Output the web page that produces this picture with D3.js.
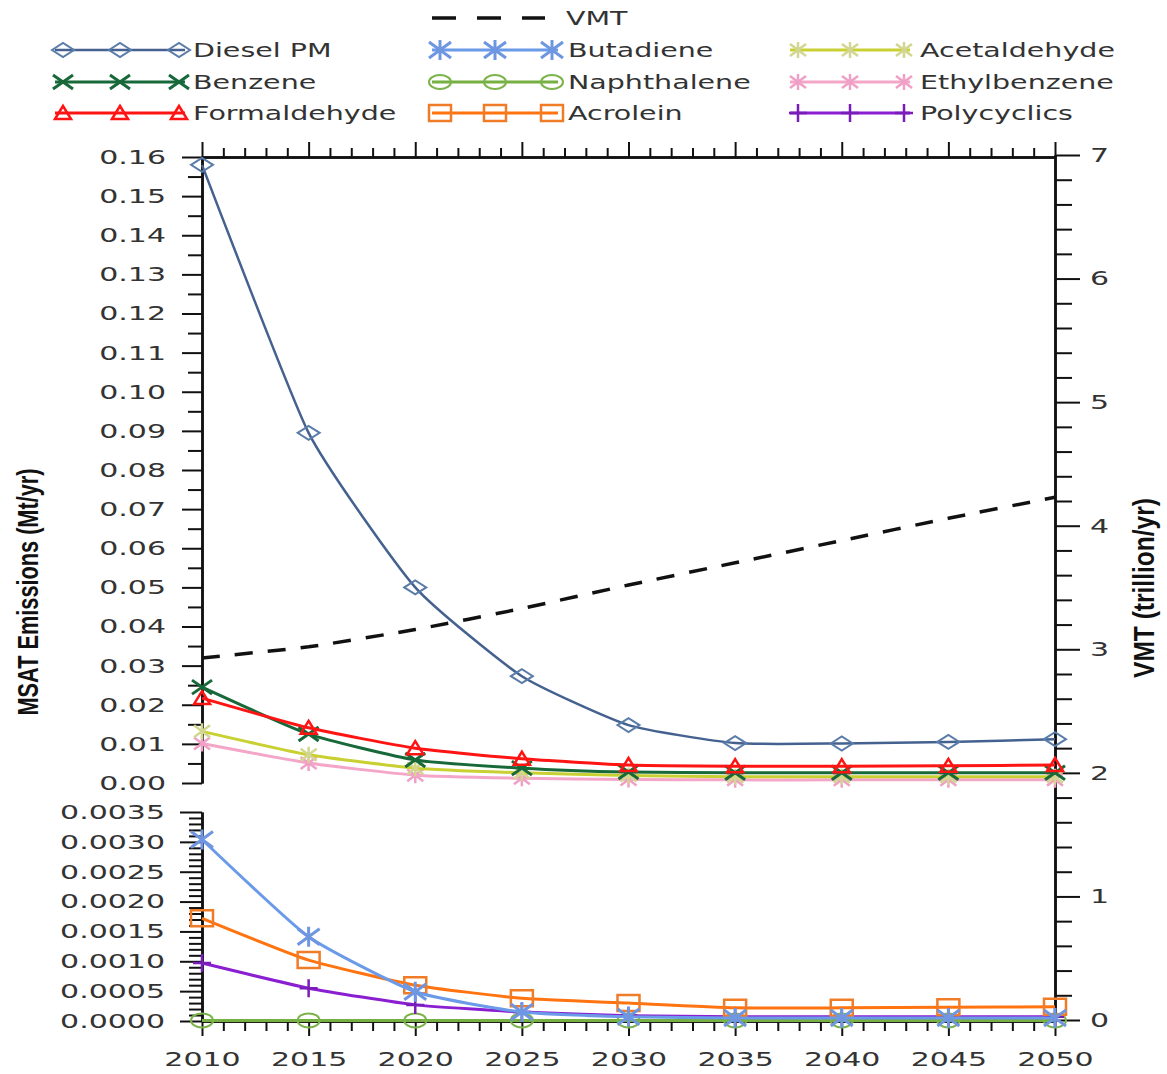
<!DOCTYPE html>
<html>
<head>
<meta charset="utf-8">
<script src="https://cdn.jsdelivr.net/npm/d3@7"></script>
<style>
  html, body { margin: 0; padding: 0; background: #fff; }
  svg { display: block; }
</style>
</head>
<body>
<svg id="chart" width="1167" height="1074"></svg>
<script>
// ---------------- DATA ----------------
const years = [2010, 2015, 2020, 2025, 2030, 2035, 2040, 2045, 2050];
const vmt = [2.93, 3.02, 3.16, 3.33, 3.52, 3.70, 3.88, 4.06, 4.23];
const dieselPM = [0.158, 0.0895, 0.0500, 0.0273, 0.0148, 0.0102, 0.0101, 0.0105, 0.0112];
const benzene = [0.0245, 0.0125, 0.0059, 0.0038, 0.0028, 0.0026, 0.0026, 0.0026, 0.0026];
const formaldehyde = [0.0217, 0.0141, 0.0089, 0.0062, 0.0046, 0.0043, 0.0043, 0.0044, 0.0046];
const acetaldehyde = [0.0132, 0.0072, 0.0038, 0.0026, 0.0019, 0.0016, 0.0016, 0.0016, 0.0016];
const ethylbenzene = [0.0101, 0.0051, 0.0020, 0.0012, 0.0009, 0.0008, 0.0008, 0.0008, 0.0008];
const butadiene = [0.00304, 0.00141, 0.00049, 0.00015, 0.00007, 0.00005, 0.00005, 0.00005, 0.00005];
const acrolein = [0.00172, 0.00102, 0.00060, 0.00038, 0.00030, 0.00022, 0.00022, 0.00023, 0.00024];
const polycyclics = [0.00097, 0.00055, 0.00027, 0.00015, 0.00009, 0.00007, 0.00007, 0.00007, 0.00007];
const naphthalene = [0.00001, 0.00001, 0.00001, 0.00001, 0.00001, 0.00001, 0.00001, 0.00001, 0.00001];

const topTickLabels = [0, 0.01, 0.02, 0.03, 0.04, 0.05, 0.06, 0.07, 0.08, 0.09, 0.10, 0.11, 0.12, 0.13, 0.14, 0.15, 0.16];
const bottomTickLabels = [0, 0.0005, 0.0010, 0.0015, 0.0020, 0.0025, 0.0030, 0.0035];
const rightTickLabels = [0, 1, 2, 3, 4, 5, 6, 7];
const yearTickLabels = years;

const leftTitle = "MSAT Emissions (Mt/yr)";
const rightTitle = "VMT (trillion/yr)";

// ---------------- SETUP ----------------
const svg = d3.select("#chart");
const SX = 1.5; // horizontal text stretch of the reference
const FONT = "'DejaVu Sans', Verdana, sans-serif";
const TXT = "#333";

const x = d3.scaleLinear().domain([2010, 2050]).range([202, 1055]);
const yTop = d3.scaleLinear().domain([0, 0.16]).range([783, 157]);
const yBot = d3.scaleLinear().domain([0, 0.0035]).range([1021, 812]);
const yR = d3.scaleLinear().domain([0, 7]).range([1020, 155]);

svg.append("rect").attr("width", 1167).attr("height", 1074).attr("fill", "#fff");

function styleAxis(g) {
  g.selectAll(".domain").attr("stroke", "#111").attr("stroke-width", 2.5);
  g.selectAll(".tick line").attr("stroke", "#111").attr("stroke-width", 2);
  g.attr("font-family", FONT).attr("font-size", 20);
  g.selectAll(".tick text").attr("fill", TXT);
}
function stretchLabels(g, xoff) {
  g.selectAll(".tick text").each(function () {
    const t = d3.select(this);
    t.attr("x", xoff / SX).attr("transform", `scale(${SX},1)`);
  });
}

// ---- top panel left axis ----
const minorTop = d3.range(0, 16).map(i => 0.005 + i * 0.01);
svg.append("g").attr("transform", "translate(202,0)")
  .call(d3.axisLeft(yTop).tickValues(minorTop).tickSize(14).tickSizeOuter(0).tickFormat(""))
  .call(styleAxis);
const gTL = svg.append("g").attr("transform", "translate(202,0)")
  .call(d3.axisLeft(yTop).tickValues(topTickLabels).tickSize(20).tickSizeOuter(0).tickFormat(d3.format(".2f")))
  .call(styleAxis);
stretchLabels(gTL, -36);

// ---- top border with ticks ----
const allYears = d3.range(2010, 2051);
svg.append("g").attr("transform", "translate(0,157)")
  .call(d3.axisTop(x).tickValues(allYears.filter(v => v % 5 !== 0)).tickSize(9).tickSizeOuter(0).tickFormat(""))
  .call(styleAxis);
svg.append("g").attr("transform", "translate(0,157)")
  .call(d3.axisTop(x).tickValues(yearTickLabels).tickSize(15).tickSizeOuter(0).tickFormat(""))
  .call(styleAxis);

// ---- bottom panel left axis ----
const minorBot = d3.range(0, 36).filter(i => i % 5 !== 0).map(i => i * 0.0001);
svg.append("g").attr("transform", "translate(202,0)")
  .call(d3.axisLeft(yBot).tickValues(minorBot).tickSize(13).tickSizeOuter(0).tickFormat(""))
  .call(styleAxis);
const gBL = svg.append("g").attr("transform", "translate(202,0)")
  .call(d3.axisLeft(yBot).tickValues(bottomTickLabels).tickSize(22).tickSizeOuter(0).tickFormat(d3.format(".4f")))
  .call(styleAxis);
stretchLabels(gBL, -37);

// ---- bottom x axis ----
svg.append("g").attr("transform", "translate(0,1021)")
  .call(d3.axisBottom(x).tickValues(allYears.filter(v => v % 5 !== 0)).tickSize(10).tickSizeOuter(0).tickFormat(""))
  .call(styleAxis);
const gX = svg.append("g").attr("transform", "translate(0,1021)")
  .call(d3.axisBottom(x).tickValues(yearTickLabels).tickSize(15).tickSizeOuter(0).tickFormat(d3.format("d")))
  .call(styleAxis);
gX.selectAll(".tick text").attr("y", 45).attr("dy", 0).attr("transform", `scale(${SX},1)`);

// ---- right axis ----
const minorR = d3.range(0, 36).filter(i => i % 5 !== 0).map(i => i * 0.2);
svg.append("g").attr("transform", "translate(1055,0)")
  .call(d3.axisRight(yR).tickValues(minorR).tickSize(17).tickSizeOuter(0).tickFormat(""))
  .call(styleAxis);
const gR = svg.append("g").attr("transform", "translate(1055,0)")
  .call(d3.axisRight(yR).tickValues(rightTickLabels).tickSize(25).tickSizeOuter(0).tickFormat(d3.format("d")))
  .call(styleAxis);
stretchLabels(gR, 35);

// ---- axis titles ----
svg.append("text")
  .attr("transform", "translate(38,592) rotate(-90) scale(1,1.5)")
  .attr("text-anchor", "middle")
  .attr("font-family", "'Liberation Sans Narrow','Liberation Sans',Arial,sans-serif")
  .attr("font-weight", "bold").attr("font-size", 20).attr("fill", "#111")
  .attr("textLength", 247).attr("lengthAdjust", "spacingAndGlyphs")
  .text(leftTitle);
svg.append("text")
  .attr("transform", "translate(1154,588) rotate(-90) scale(1,1.5)")
  .attr("text-anchor", "middle")
  .attr("font-family", "'Liberation Sans Narrow','Liberation Sans',Arial,sans-serif")
  .attr("font-weight", "bold").attr("font-size", 20).attr("fill", "#111")
  .attr("textLength", 180).attr("lengthAdjust", "spacingAndGlyphs")
  .text(rightTitle);

// ---------------- MARKERS ----------------
const markerPaths = {
  diamond: "M-11,0L0,-7L11,0L0,7Z",
  circle: "M-11,0A11,7 0 1,0 11,0A11,7 0 1,0 -11,0Z",
  square: "M-11,-8H11V8H-11Z",
  triangle: "M-8,6L0,-7L8,6Z",
  xmark: "M-10,-7L10,7M-10,7L10,-7",
  star: "M-11,-8L11,8M-11,8L11,-8M0,-10V10",
  smallstar: "M-8,-6L8,6M-8,6L8,-6M0,-8V8",
  plus: "M0,-9V9M-9,0H9"
};

const seriesTop = [
  { name: "Ethylbenzene", values: ethylbenzene, color: "#f3a6c8", width: 3, marker: "smallstar", mstroke: "#f0a0c6", mw: 2.5 },
  { name: "Acetaldehyde", values: acetaldehyde, color: "#c9d132", width: 3, marker: "smallstar", mstroke: "#d2d690", mw: 2.5 },
  { name: "Benzene", values: benzene, color: "#17693a", width: 3, marker: "xmark", mstroke: "#17693a", mw: 3 },
  { name: "Formaldehyde", values: formaldehyde, color: "#ff1414", width: 3, marker: "triangle", mstroke: "#ff1414", mw: 2.5 },
  { name: "Diesel PM", values: dieselPM, color: "#44618f", width: 2.5, marker: "diamond", mstroke: "#5a7ca8", mw: 2 }
];
const seriesBot = [
  { name: "Naphthalene", values: naphthalene, color: "#76b043", width: 3, marker: "circle", mstroke: "#7cb34a", mw: 2 },
  { name: "Polycyclics", values: polycyclics, color: "#8a1fd1", width: 3, marker: "plus", mstroke: "#7a1cb8", mw: 2.5 },
  { name: "Acrolein", values: acrolein, color: "#ff7410", width: 3, marker: "square", mstroke: "#f07c28", mw: 2.5 },
  { name: "Butadiene", values: butadiene, color: "#6b9ae8", width: 3, marker: "star", mstroke: "#6f96e0", mw: 3 }
];

const curve = d3.curveCardinal.tension(0.5);

// ---- VMT dashed line (right axis) ----
svg.append("path")
  .datum(years.map((yr, i) => [yr, vmt[i]]))
  .attr("d", d3.line().x(d => x(d[0])).y(d => yR(d[1])).curve(curve))
  .attr("fill", "none").attr("stroke", "#111").attr("stroke-width", 3.5)
  .attr("stroke-dasharray", "18,15");

function drawSeries(list, yScale) {
  list.forEach(s => {
    const pts = years.map((yr, i) => [yr, s.values[i]]);
    svg.append("path").datum(pts)
      .attr("d", d3.line().x(d => x(d[0])).y(d => yScale(d[1])).curve(curve))
      .attr("fill", "none").attr("stroke", s.color).attr("stroke-width", s.width);
    svg.append("g").selectAll("path").data(pts).join("path")
      .attr("transform", d => `translate(${x(d[0])},${yScale(d[1])})`)
      .attr("d", markerPaths[s.marker])
      .attr("fill", "none").attr("stroke", s.mstroke).attr("stroke-width", s.mw);
  });
}
drawSeries(seriesTop, yTop);
drawSeries(seriesBot, yBot);

// ---------------- LEGEND ----------------
const byName = {};
[...seriesTop, ...seriesBot].forEach(s => byName[s.name] = s);
const legendCols = [
  { x0: 55, x1: 185, tx: 193, names: ["Diesel PM", "Benzene", "Formaldehyde"] },
  { x0: 432, x1: 558, tx: 568, names: ["Butadiene", "Naphthalene", "Acrolein"] },
  { x0: 790, x1: 910, tx: 920, names: ["Acetaldehyde", "Ethylbenzene", "Polycyclics"] }
];
const legendRows = [50, 82, 113];
const lg = svg.append("g");
legendCols.forEach(c => {
  c.names.forEach((n, r) => {
    const s = byName[n], y = legendRows[r];
    lg.append("line").attr("x1", c.x0).attr("x2", c.x1).attr("y1", y).attr("y2", y)
      .attr("stroke", s.color).attr("stroke-width", s.width);
    [c.x0 + 8, (c.x0 + c.x1) / 2, c.x1 - 6].forEach(mx => {
      lg.append("path").attr("transform", `translate(${mx},${y})`)
        .attr("d", markerPaths[s.marker]).attr("fill", "none")
        .attr("stroke", s.mstroke).attr("stroke-width", s.mw);
    });
    lg.append("text").attr("transform", `translate(${c.tx},${y}) scale(${SX},1)`)
      .attr("dy", "0.36em").attr("font-family", FONT).attr("font-size", 19).attr("fill", TXT)
      .text(n);
  });
});
lg.append("line").attr("x1", 432).attr("x2", 545).attr("y1", 18).attr("y2", 18)
  .attr("stroke", "#111").attr("stroke-width", 3.5).attr("stroke-dasharray", "24,21");
lg.append("text").attr("transform", `translate(566,18) scale(${SX},1)`)
  .attr("dy", "0.36em").attr("font-family", FONT).attr("font-size", 19).attr("fill", TXT)
  .text("VMT");
</script>
</body>
</html>
